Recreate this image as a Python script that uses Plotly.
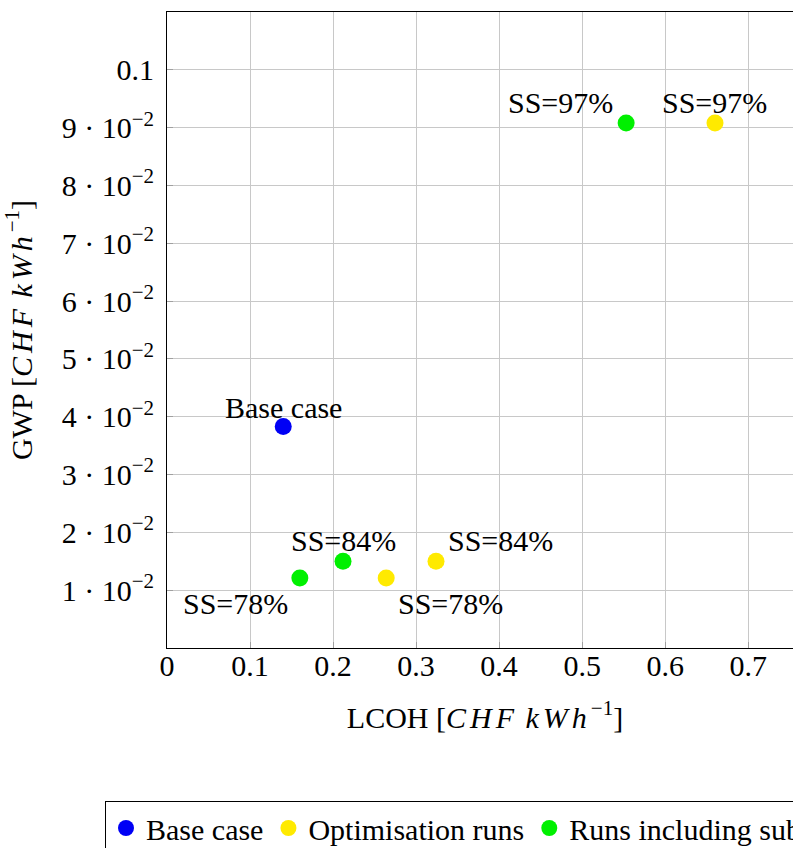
import plotly.graph_objects as go

# ---- data ----
base_lcoh = [0.140]
base_gwp = [0.0383]
base_labels = ["Base case"]

opt_lcoh = [0.264, 0.324, 0.660]
opt_gwp = [0.0121, 0.0150, 0.0908]
opt_labels = ["SS=78%", "SS=84%", "SS=97%"]

sub_lcoh = [0.160, 0.212, 0.553]
sub_gwp = [0.0121, 0.0150, 0.0908]
sub_labels = ["SS=78%", "SS=84%", "SS=97%"]

x_tickvals = [0, 0.1, 0.2, 0.3, 0.4, 0.5, 0.6, 0.7]
x_ticktext = ["0", "0.1", "0.2", "0.3", "0.4", "0.5", "0.6", "0.7"]
y_tickvals = [0.01, 0.02, 0.03, 0.04, 0.05, 0.06, 0.07, 0.08, 0.09, 0.1]
y_ticktext = ["1 · 10<sup>−2</sup>", "2 · 10<sup>−2</sup>", "3 · 10<sup>−2</sup>",
              "4 · 10<sup>−2</sup>", "5 · 10<sup>−2</sup>", "6 · 10<sup>−2</sup>",
              "7 · 10<sup>−2</sup>", "8 · 10<sup>−2</sup>", "9 · 10<sup>−2</sup>", "0.1"]

FONT = "Liberation Serif"
FS = 30
BLUE = "#0000f5"
YELLOW = "#ffea00"
GREEN = "#00f000"
MATH = ('<span style="font-style:italic;letter-spacing:4px">CHF</span> '
        '<span style="font-style:italic;letter-spacing:4px">kWh</span>')

fig = go.Figure()
fig.add_trace(go.Scatter(x=base_lcoh, y=base_gwp, mode="markers", name="Base case",
                         marker=dict(color=BLUE, size=17)))
fig.add_trace(go.Scatter(x=opt_lcoh, y=opt_gwp, mode="markers", name="Optimisation runs",
                         marker=dict(color=YELLOW, size=17)))
fig.add_trace(go.Scatter(x=sub_lcoh, y=sub_gwp, mode="markers", name="Runs including subsidies",
                         marker=dict(color=GREEN, size=17)))

# label placement (style only): (xanchor, xshift, yshift)
base_place = [("center", 0, 19)]
opt_place = [("left", 10, -25), ("left", 10, 21), ("center", 0, 21)]
sub_place = [("right", -10, -25), ("center", 0, 21), ("right", -11, 21)]

for xs, ys, labs, places in [(base_lcoh, base_gwp, base_labels, base_place),
                             (opt_lcoh, opt_gwp, opt_labels, opt_place),
                             (sub_lcoh, sub_gwp, sub_labels, sub_place)]:
    for xv, yv, lab, (xa, dx, dy) in zip(xs, ys, labs, places):
        fig.add_annotation(x=xv, y=yv, text=lab, showarrow=False, xanchor=xa,
                           yanchor="middle", xshift=dx, yshift=dy,
                           font=dict(family=FONT, size=FS, color="black"))

W, H = 900, 848
L, T = 167, 12
PR, PB = 803, 648   # plot right / bottom in figure px
R, B = W - PR, H - PB

fig.update_layout(
    width=W, height=H,
    margin=dict(l=L, r=R, t=T, b=B, autoexpand=False),
    plot_bgcolor="white", paper_bgcolor="white",
    font=dict(family=FONT, size=FS, color="black"),
    showlegend=True,
    legend=dict(orientation="h", x=(105 - L) / (PR - L), xanchor="left",
                y=(PB - 801) / (PB - T), yanchor="top",
                bordercolor="black", borderwidth=1, bgcolor="white",
                font=dict(family=FONT, size=FS), itemwidth=30,
                tracegroupgap=0),
    xaxis=dict(range=[0, 0.766], tickvals=x_tickvals, ticktext=x_ticktext,
               showgrid=True, gridcolor="#c8c8c8", gridwidth=1,
               showline=True, linecolor="black", linewidth=1, mirror=True,
               ticks="inside", ticklen=6, tickcolor="#a0a0a0",
               zeroline=False, automargin=False, ticklabelstandoff=-9,
               title=dict(text="LCOH [" + MATH + "<sup>−1</sup>]", standoff=25,
                          font=dict(family=FONT, size=FS))),
    yaxis=dict(range=[0, 0.11], tickvals=y_tickvals, ticktext=y_ticktext,
               showgrid=True, gridcolor="#c8c8c8", gridwidth=1,
               showline=True, linecolor="black", linewidth=1, mirror=True,
               ticks="inside", ticklen=6, tickcolor="#a0a0a0",
               zeroline=False, automargin=False, ticklabelstandoff=6,
               title=dict(text="GWP [" + MATH + "<sup>−1</sup>]", standoff=21,
                          font=dict(family=FONT, size=FS))),
)

fig.write_html(
    "out.html",
    config={"displayModeBar": False},
    post_script=("document.documentElement.style.overflow='hidden';"
                 "document.body.style.overflow='hidden';"
                 "document.body.style.margin='0';"),
)
